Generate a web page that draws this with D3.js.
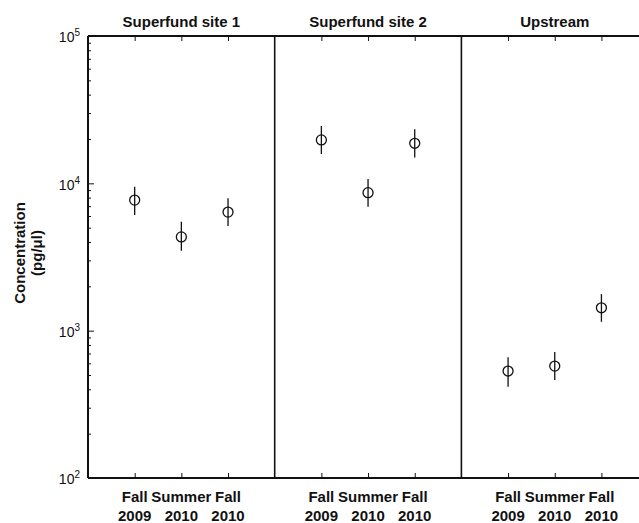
<!DOCTYPE html>
<html>
<head>
<meta charset="utf-8">
<script src="https://cdn.jsdelivr.net/npm/d3@7/dist/d3.min.js"></script>
<style>
body { margin: 0; background: #fff; }
text { font-family: "Liberation Sans", Arial, sans-serif; fill: #111; }
</style>
</head>
<body>
<script>
// data
var sites = ["Superfund site 1", "Superfund site 2", "Upstream"];
var seasonNames = ["Fall", "Summer", "Fall"];
var seasonYears = ["2009", "2010", "2010"];
var concMid = [[7700, 4330, 6380], [19700, 8640, 18700], [532, 575, 1430]];
var concLow = [[6100, 3490, 5130], [15800, 6930, 15000], [416, 462, 1148]];
var concHigh = [[9490, 5480, 7910], [24500, 10700, 23300], [659, 716, 1771]];
var majorTicks = [1e2, 1e3, 1e4, 1e5];

var margin = {top: 36, left: 88},
    panelW = 186.7,
    height = 478 - margin.top;

var svg = d3.select("body").append("svg")
    .attr('width', 639)
    .attr('height', 523);

var g = svg.append("g")
    .attr('transform', "translate(" + margin.left + "," + margin.top + ")");

// scales
var yScale = d3.scaleLog().domain([1e2, 1e5]).range([height, 0]);
var panelScale = d3.scaleBand().domain(sites).range([0, panelW * sites.length]).padding(0);
var xScale = d3.scaleLinear().domain([0, seasonNames.length + 1]).range([0, panelScale.bandwidth()]);

// minor ticks on the log axis
var minorTicks = [];
majorTicks.slice(0, -1).forEach(function(m){
    for (var k = 2; k <= 9; k++) minorTicks.push(m * k);
});

g.append("g")
    .call(d3.axisLeft(yScale).tickValues(minorTicks).tickSize(-3).tickFormat(""))
    .call(function(s){ s.select("path.domain").remove(); })
    .selectAll("line").attr('stroke', "#111");

var yAxis = g.append("g")
    .call(d3.axisLeft(yScale).tickValues(majorTicks).tickSize(-6).tickFormat(""));
yAxis.select("path.domain").remove();
yAxis.selectAll("line").attr('stroke', "#111");
yAxis.selectAll("g.tick").each(function(d){
    var t = d3.select(this).append("text")
        .attr('x', -8)
        .attr('dy', "0.42em")
        .attr('text-anchor', "end")
        .style('font-size', "14px");
    t.append("tspan").text("10");
    t.append("tspan").text(Math.round(Math.log10(d)))
        .attr('dy', "-0.6em")
        .style('font-size', "10px");
});

// panels
var panels = g.selectAll("g.panel")
    .data(sites)
    .enter().append("g")
    .attr('class', "panel")
    .attr('transform', function(d){ return "translate(" + panelScale(d) + ",0)"; });

panels.append("text")
    .text(function(d){ return d; })
    .attr('x', panelScale.bandwidth() / 2)
    .attr('y', -9.5)
    .attr('text-anchor', "middle")
    .style('font-size', "15px")
    .style('font-weight', "bold");

var tickPos = d3.range(1, seasonNames.length + 1);

panels.each(function(site, si){
    var p = d3.select(this);

    // top / bottom ticks
    p.append("g")
        .call(d3.axisBottom(xScale).tickValues(tickPos).tickSize(-5).tickFormat(""))
        .attr('transform', "translate(0," + height + ")")
        .call(function(s){ s.select("path.domain").remove(); s.selectAll("line").attr('stroke', "#111"); });
    p.append("g")
        .call(d3.axisTop(xScale).tickValues(tickPos).tickSize(-5).tickFormat(""))
        .call(function(s){ s.select("path.domain").remove(); s.selectAll("line").attr('stroke', "#111"); });

    // season labels
    tickPos.forEach(function(v, i){
        var lab = p.append("text")
            .attr('x', xScale(v))
            .attr('text-anchor', "middle")
            .style('font-size', "15px")
            .style('font-weight', "bold");
        lab.append("tspan").attr('x', xScale(v)).attr('y', height + 24).text(seasonNames[i]);
        lab.append("tspan").attr('x', xScale(v)).attr('y', height + 42.5).text(seasonYears[i]);
    });

    // error bars
    p.selectAll("line.err")
        .data(concMid[si])
        .enter().append("line")
        .attr('class', "err")
        .attr('x1', function(d, i){ return xScale(tickPos[i]); })
        .attr('x2', function(d, i){ return xScale(tickPos[i]); })
        .attr('y1', function(d, i){ return yScale(concLow[si][i]); })
        .attr('y2', function(d, i){ return yScale(concHigh[si][i]); })
        .attr('stroke', "#111")
        .attr('stroke-width', 1.3);

    p.selectAll("circle")
        .data(concMid[si])
        .enter().append("circle")
        .attr('cx', function(d, i){ return xScale(tickPos[i]); })
        .attr('cy', function(d){ return yScale(d); })
        .attr('r', 5)
        .attr('fill', "none")
        .attr('stroke', "#111")
        .attr('stroke-width', 1.3);
});

// frame
var totalW = panelW * sites.length;
g.append("line").attr('x1', 0).attr('x2', totalW).attr('y1', 0).attr('y2', 0)
    .attr('stroke', "#111").attr('stroke-width', 1.8);
g.append("line").attr('x1', 0).attr('x2', totalW).attr('y1', height).attr('y2', height)
    .attr('stroke', "#111").attr('stroke-width', 1.8);
g.append("line").attr('x1', 0).attr('x2', 0).attr('y1', 0).attr('y2', height)
    .attr('stroke', "#111").attr('stroke-width', 2);
g.selectAll("line.divider")
    .data(sites.slice(1))
    .enter().append("line")
    .attr('class', "divider")
    .attr('x1', function(d){ return panelScale(d); })
    .attr('x2', function(d){ return panelScale(d); })
    .attr('y1', 0)
    .attr('y2', height)
    .attr('stroke', "#111")
    .attr('stroke-width', 1.6);

// y label
var ylab = svg.append("text")
    .attr('transform', "translate(25," + (margin.top + height / 2 - 4) + ") rotate(-90)")
    .attr('text-anchor', "middle")
    .style('font-size', "15px")
    .style('font-weight', "bold");
ylab.append("tspan").attr('x', 0).attr('y', 0).text("Concentration");
ylab.append("tspan").attr('x', 0).attr('y', 17).text("(pg/μl)");
</script>
</body>
</html>
